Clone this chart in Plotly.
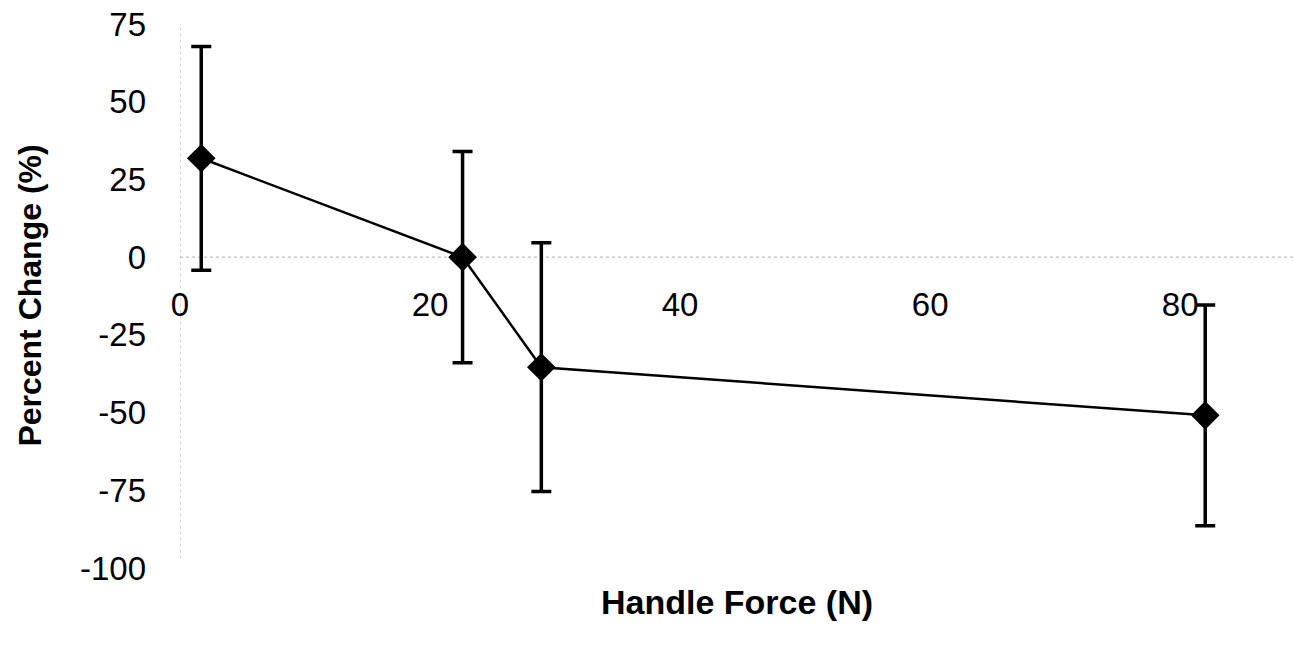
import plotly.graph_objects as go

# handle force (N) vs percent change (%)
handle_force = [1.7, 22.6, 28.9, 82.0]
percent_change = [31.8, 0.0, -35.4, -50.9]
error_sd = [36.0, 34.0, 40.0, 35.5]

x_ticks = [0, 20, 40, 60, 80]
y_ticks = [-100, -75, -50, -25, 0, 25, 50, 75]
y_tick_text = ["-100", "-75", "-50", "-25", "0", "25", "50", "75"]

x_range = [0, 89.1]
y_range = [-100, 75]

FONT = "Liberation Sans, Arial, sans-serif"

fig = go.Figure()

fig.add_trace(go.Scatter(
    x=handle_force,
    y=percent_change,
    mode="lines+markers",
    line=dict(color="black", width=2.5),
    marker=dict(symbol="diamond", size=22, color="black"),
    error_y=dict(type="data", array=error_sd, visible=True,
                 color="black", thickness=3.5, width=10),
    showlegend=False,
))

# faint dotted axis lines (x axis crosses at y = 0)
fig.add_shape(type="line", xref="x", yref="y",
              x0=x_range[0], x1=x_range[1], y0=0, y1=0,
              line=dict(color="#b0b0b0", width=1, dash="dot"), layer="below")
fig.add_shape(type="line", xref="x", yref="y",
              x0=0, x1=0, y0=y_range[0] + 3, y1=y_range[1],
              line=dict(color="#b0b0b0", width=1, dash="dot"), layer="below")

zero_frac = (0 - y_range[0]) / (y_range[1] - y_range[0])

fig.update_layout(
    width=1294, height=648,
    paper_bgcolor="white", plot_bgcolor="white",
    margin=dict(l=180, r=0, t=24, b=80),
    font=dict(family=FONT, color="black"),
    xaxis=dict(
        range=x_range, tickvals=x_ticks, showgrid=False, zeroline=False,
        showline=False, anchor="free", position=zero_frac,
        ticks="", ticklabelstandoff=25, automargin=False,
        ticklabeloverflow="allow",
        tickfont=dict(size=33, family=FONT),
    ),
    yaxis=dict(
        range=y_range, tickvals=y_ticks, ticktext=y_tick_text,
        showgrid=False, zeroline=False, automargin=False,
        showline=False, ticks="", ticklabelstandoff=33,
        ticklabeloverflow="allow",
        tickfont=dict(size=33, family=FONT),
    ),
    annotations=[
        dict(text="<b>Handle Force (N)</b>", xref="paper", yref="paper",
             x=0.5, y=-0.0625, xanchor="center", yanchor="middle",
             showarrow=False, font=dict(size=34, family=FONT)),
        dict(text="<b>Percent Change (%)</b>", xref="paper", yref="paper",
             x=-0.135, y=0.5, xanchor="center", yanchor="middle",
             textangle=-90, showarrow=False, font=dict(size=32, family=FONT)),
    ],
)

# drop the default body margin so the figure fills the window
fig.write_html("out.html", config={"displayModeBar": False},
               post_script="document.body.style.margin = '0';")
